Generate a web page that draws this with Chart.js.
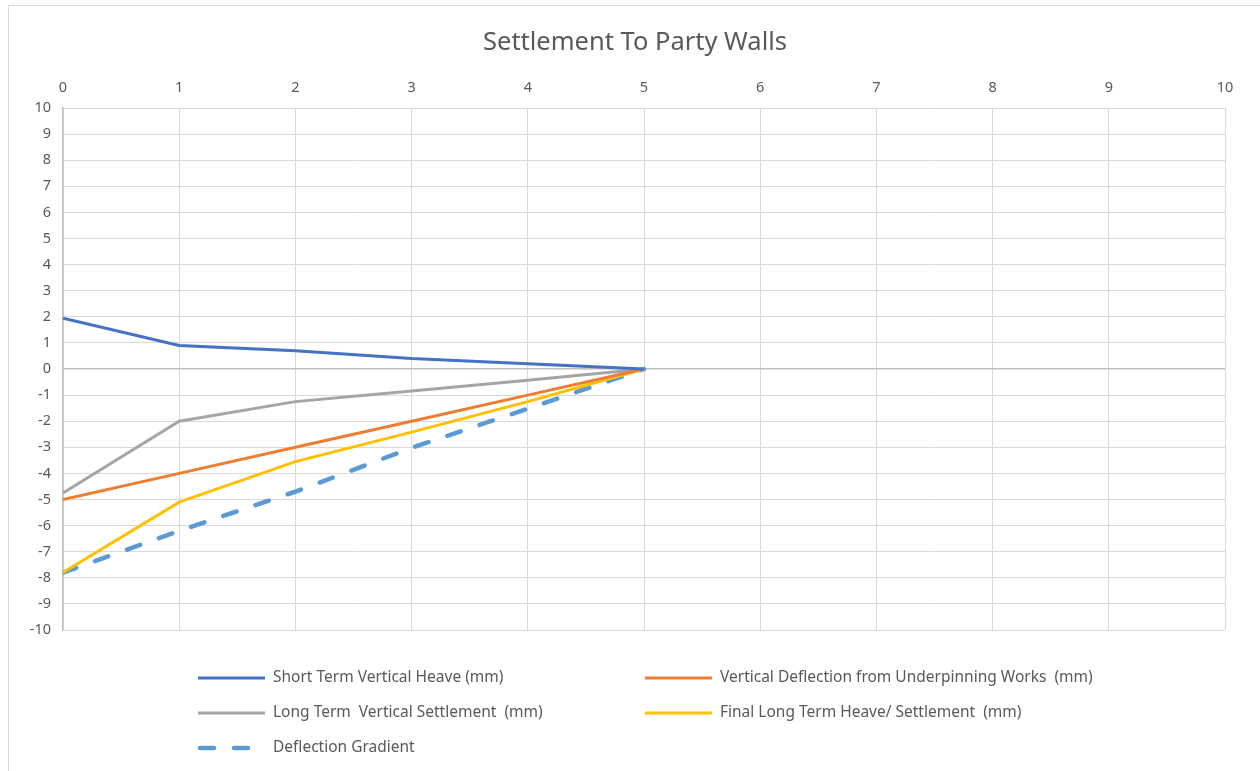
<!DOCTYPE html>
<html>
<head>
<meta charset="utf-8">
<script src="https://cdn.jsdelivr.net/npm/chart.js@4.4.1/dist/chart.umd.min.js"></script>
<style>
  html, body { margin: 0; padding: 0; background: #fff; }
  #wrap { width: 1260px; height: 771px; position: relative; }
</style>
</head>
<body>
<div id="wrap"><canvas id="c" width="1260" height="771"></canvas></div>
<script>
// Distance along the wall (x) and readings in mm
const positions = [0, 1, 2, 3, 4, 5];
const shortTermHeave = [1.95, 0.9, 0.7, 0.4, 0.2, 0];
const underpinningDeflection = [-5, -4, -3, -2, -1, 0];
const longTermSettlement = [-4.75, -2, -1.25, -0.84, -0.43, 0];
const finalLongTerm = [-7.8, -5.1, -3.55, -2.42, -1.25, 0];
const deflectionGradient = [-7.8, -6.2, -4.7, -3.02, -1.52, 0];

const xTicks = [0, 1, 2, 3, 4, 5, 6, 7, 8, 9, 10];
const yTicks = [-10, -9, -8, -7, -6, -5, -4, -3, -2, -1, 0, 1, 2, 3, 4, 5, 6, 7, 8, 9, 10];

const chartTitle = 'Settlement To Party Walls';
const seriesNames = [
  'Short Term Vertical Heave (mm)',
  'Vertical Deflection from Underpinning Works  (mm)',
  'Long Term  Vertical Settlement  (mm)',
  'Final Long Term Heave/ Settlement  (mm)',
  'Deflection Gradient'
];

const FONT = '"Noto Sans", "Open Sans", sans-serif';
const TEXT = '#595959';

function pts(vals) { return positions.map((x, i) => ({ x: x, y: vals[i] })); }

function ds(label, vals, color, width, dash) {
  return {
    label: label,
    data: pts(vals),
    borderColor: color,
    backgroundColor: color,
    borderWidth: width,
    borderDash: dash || [],
    borderCapStyle: dash ? 'round' : 'butt',
    showLine: true,
    pointRadius: 0,
    pointHoverRadius: 0,
    tension: 0,
    fill: false
  };
}

// Frame, title centred on the frame, and the two-column legend underneath
const framePlugin = {
  id: 'frame',
  beforeDraw(chart) {
    const ctx = chart.ctx;
    ctx.save();
    ctx.strokeStyle = '#d9d9d9';
    ctx.lineWidth = 1;
    ctx.beginPath();
    ctx.moveTo(8.5, 771);
    ctx.lineTo(8.5, 5.5);
    ctx.lineTo(1260, 5.5);
    ctx.stroke();
    ctx.font = '25.5px ' + FONT;
    ctx.fillStyle = TEXT;
    ctx.textAlign = 'center';
    ctx.textBaseline = 'middle';
    ctx.fillText(chartTitle, 635, 43);
    ctx.restore();
  },
  afterDraw(chart) {
    const ctx = chart.ctx;
    const cols = [198, 645];
    const rows = [678, 713, 748];
    ctx.save();
    ctx.font = '15.5px ' + FONT;
    ctx.fillStyle = TEXT;
    ctx.textBaseline = 'middle';
    chart.data.datasets.forEach((d, i) => {
      const x = cols[i % 2];
      const y = rows[Math.floor(i / 2)];
      const dashed = d.borderDash.length > 0;
      ctx.strokeStyle = d.borderColor;
      ctx.lineWidth = d.borderWidth;
      ctx.setLineDash(dashed ? d.borderDash : []);
      ctx.lineCap = dashed ? 'round' : 'butt';
      ctx.beginPath();
      ctx.moveTo(x + (dashed ? 2 : 0), y);
      ctx.lineTo(x + 67, y);
      ctx.stroke();
      ctx.setLineDash([]);
      ctx.fillText(d.label, x + 75, y);
    });
    ctx.restore();
  }
};

new Chart(document.getElementById('c'), {
  type: 'scatter',
  data: {
    datasets: [
      ds(seriesNames[0], shortTermHeave, '#4472C4', 3),
      ds(seriesNames[1], underpinningDeflection, '#ED7D31', 3),
      ds(seriesNames[2], longTermSettlement, '#A5A5A5', 3),
      ds(seriesNames[3], finalLongTerm, '#FFC000', 3),
      ds(seriesNames[4], deflectionGradient, '#5B9BD5', 4.5, [14, 20])
    ]
  },
  options: {
    responsive: false,
    animation: false,
    devicePixelRatio: 1,
    layout: { padding: { left: 23, right: 35, top: 69, bottom: 141 } },
    plugins: {
      legend: { display: false },
      tooltip: { enabled: false },
      title: { display: false }
    },
    scales: {
      x: {
        type: 'linear',
        position: 'top',
        min: 0,
        max: 10,
        afterBuildTicks(scale) { scale.ticks = xTicks.map(v => ({ value: v })); },
        afterFit(scale) { scale.height = 39; },
        ticks: { color: TEXT, font: { family: FONT, size: 14.5 }, padding: 11, maxRotation: 0 },
        grid: { color: '#d9d9d9', lineWidth: 1, drawTicks: false },
        border: { display: false }
      },
      y: {
        type: 'linear',
        min: -10,
        max: 10,
        afterBuildTicks(scale) { scale.ticks = yTicks.map(v => ({ value: v })); },
        afterFit(scale) { scale.width = 40; },
        ticks: { color: TEXT, font: { family: FONT, size: 14.5 }, padding: 12 },
        grid: {
          color: ctx => (ctx.tick && ctx.tick.value === 0 ? '#bfbfbf' : '#d9d9d9'),
          lineWidth: ctx => (ctx.tick && ctx.tick.value === 0 ? 1.5 : 1),
          drawTicks: false
        },
        border: { display: true, color: '#bfbfbf', width: 1.5 }
      }
    }
  },
  plugins: [framePlugin]
});
</script>
</body>
</html>
